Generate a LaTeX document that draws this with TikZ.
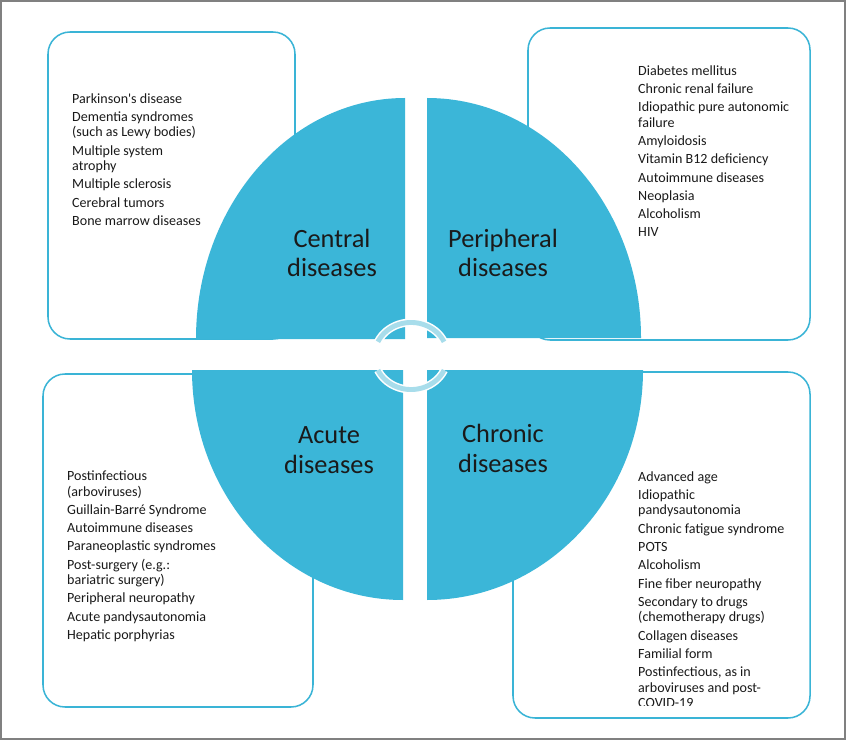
\documentclass[tikz,border=0pt]{standalone}
\usepackage{fontspec}
\setmainfont{Carlito}
\definecolor{quadblue}{RGB}{59,182,216}
\definecolor{boxblue}{RGB}{58,180,214}
\definecolor{ringblue}{RGB}{168,221,235}
\definecolor{textdark}{RGB}{26,26,26}

\begin{document}
\begin{tikzpicture}[x=0.03cm, y=-0.03cm,
  listbox/.style={draw=boxblue, line width=1.3pt, rounded corners=0.66cm, fill=white},
  quad/.style={fill=quadblue},
  heading/.style={anchor=base, align=center, text=textdark, inner sep=0pt,
    font=\fontsize{22.5}{25.5}\selectfont},
  itemlist/.style={anchor=base west, align=left, text=textdark, inner sep=0pt,
    font=\fontsize{12}{13.2}\selectfont}]
  % Frame
  \useasboundingbox (0,0) rectangle (850,741);
  \draw[gray, line width=1pt] (1,1) rectangle (845,739);

  % List boxes
  \draw[listbox] (48,32) rectangle (295,339);
  \draw[listbox] (528,28) rectangle (810,340);
  \draw[listbox] (43,374) rectangle (313,707);
  \draw[listbox] (513,372) rectangle (810,718);

  % Quarter shapes
  \fill[quad] (405,98) -- (405,339) -- (196,339)
    arc[start angle=180, end angle=270, x radius=209, y radius=241] -- cycle;
  \fill[quad] (427,98) -- (427,338) -- (641,338)
    arc[start angle=0, end angle=-90, x radius=214, y radius=240] -- cycle;
  \fill[quad] (403,600) -- (403,370) -- (192,370)
    arc[start angle=180, end angle=90, x radius=211, y radius=230] -- cycle;
  \fill[quad] (427,600) -- (427,370) -- (643,370)
    arc[start angle=0, end angle=90, x radius=216, y radius=230] -- cycle;

  % Ring in the middle
  \draw[white, line width=6.8pt] (377.9,341.8)
    arc[start angle=205, end angle=335, x radius=36.5, y radius=33.5];
  \draw[ringblue, line width=4.2pt] (377.9,341.8)
    arc[start angle=205, end angle=335, x radius=36.5, y radius=33.5];
  \draw[white, line width=6.8pt] (444.1,370.2)
    arc[start angle=25, end angle=155, x radius=36.5, y radius=33.5];
  \draw[ringblue, line width=4.2pt] (444.1,370.2)
    arc[start angle=25, end angle=155, x radius=36.5, y radius=33.5];

  % Headings (base = last line)
  \node[heading] (central) at (332,277) {Central\\diseases};
  \node[heading] (peripheral) at (503,277) {Peripheral\\diseases};
  \node[heading] (acute) at (329,473) {Acute\\diseases};
  \node[heading] (chronic) at (503,472) {Chronic\\diseases};

  % Lists (base = last line)
  \node[itemlist] (centrallist) at (72,225.5) {Parkinson\textquotesingle s disease\\[2.4pt]
    Dementia syndromes\\(such as Lewy bodies)\\[2.4pt]
    Multiple system\\atrophy\\[2.4pt]
    Multiple sclerosis\\[2.4pt]
    Cerebral tumors\\[2.4pt]
    Bone marrow diseases};
  \node[itemlist] (periphlist) at (638,237) {Diabetes mellitus\\[2.4pt]
    Chronic renal failure\\[2.4pt]
    Idiopathic pure autonomic\\failure\\[2.4pt]
    Amyloidosis\\[2.4pt]
    Vitamin B12 deficiency\\[2.4pt]
    Autoimmune diseases\\[2.4pt]
    Neoplasia\\[2.4pt]
    Alcoholism\\[2.4pt]
    HIV};
  \node[itemlist] (acutelist) at (67,639.5) {Postinfectious\\(arboviruses)\\[2.4pt]
    Guillain-Barré Syndrome\\[2.4pt]
    Autoimmune diseases\\[2.4pt]
    Paraneoplastic syndromes\\[2.4pt]
    Post-surgery (e.g.:\\bariatric surgery)\\[2.4pt]
    Peripheral neuropathy\\[2.4pt]
    Acute pandysautonomia\\[2.4pt]
    Hepatic porphyrias};
  \begin{scope}
    \clip (500,360) rectangle (845,705.5);
    \node[itemlist] (chroniclist) at (638,707.5) {Advanced age\\[2.4pt]
      Idiopathic\\pandysautonomia\\[2.4pt]
      Chronic fatigue syndrome\\[2.4pt]
      POTS\\[2.4pt]
      Alcoholism\\[2.4pt]
      Fine fiber neuropathy\\[2.4pt]
      Secondary to drugs\\(chemotherapy drugs)\\[2.4pt]
      Collagen diseases\\[2.4pt]
      Familial form\\[2.4pt]
      Postinfectious, as in\\arboviruses and post-\\COVID-19};
  \end{scope}
\end{tikzpicture}
\end{document}
